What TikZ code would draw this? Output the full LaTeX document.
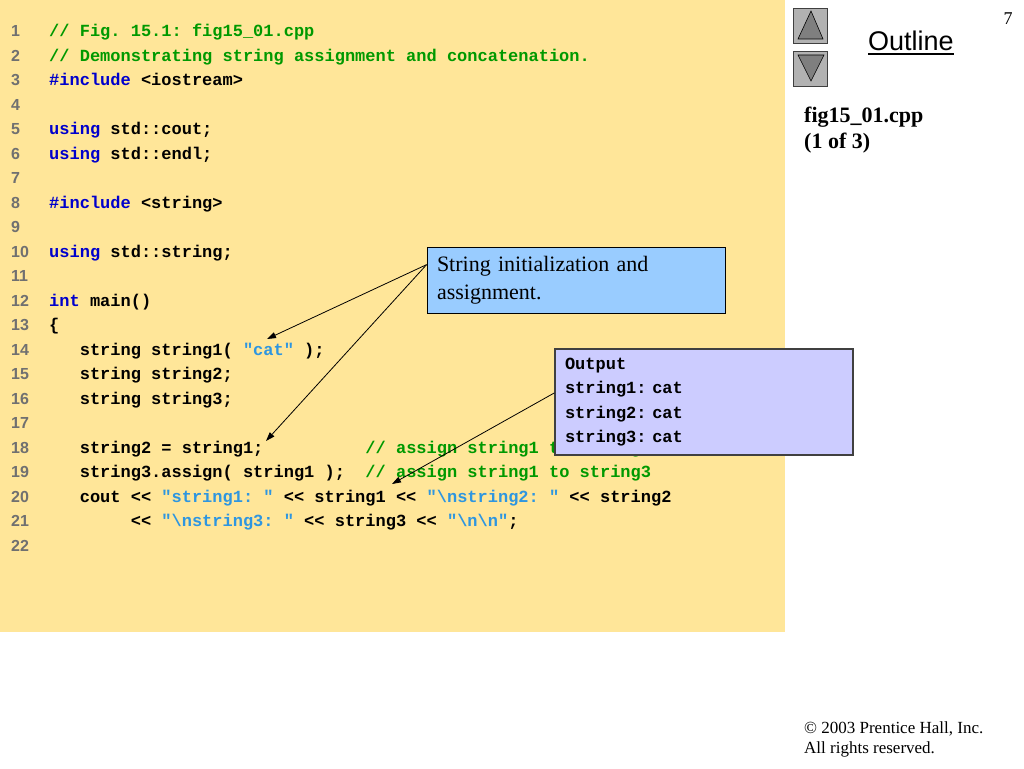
\documentclass[tikz,border=0pt]{standalone}
\usepackage{fontspec}
\setmainfont{Liberation Serif}
\newfontfamily\codefont{Liberation Mono}
\newfontfamily\arialfont{Liberation Sans}
\usetikzlibrary{arrows.meta,calc}
\definecolor{bgyellow}{HTML}{FFE699}
\definecolor{kwblue}{HTML}{0000CC}
\definecolor{cmgreen}{HTML}{009900}
\definecolor{stblue}{HTML}{2E96E0}
\definecolor{lngray}{HTML}{707070}
\definecolor{callblue}{HTML}{99CCFF}
\definecolor{callpurple}{HTML}{CCCCFF}
\definecolor{btngray}{HTML}{B2B2B2}
\definecolor{trigray}{HTML}{7F7F7F}
\newcommand\ckw[1]{\textcolor{kwblue}{#1}}
\newcommand\ccm[1]{\textcolor{cmgreen}{#1}}
\newcommand\cst[1]{\textcolor{stblue}{#1}}
\newcommand\bs{\textbackslash}
\begin{document}
\frenchspacing
\begin{tikzpicture}[x=1pt,y=-1pt,
  code/.style={anchor=base west,inner sep=0pt,font=\codefont\bfseries\fontsize{17}{24.5}\selectfont},
  lnum/.style={anchor=base west,inner sep=0pt,text=lngray,font=\arialfont\bfseries\fontsize{16}{18}\selectfont},
  callone/.style={draw=black,line width=0.8pt,fill=callblue,minimum width=298pt,minimum height=66pt,
    text width=278pt,inner xsep=10pt,align=left,font=\fontsize{22}{28}\selectfont},
  calltwo/.style={draw=black!75,line width=1.2pt,fill=callpurple,minimum width=298pt,minimum height=106pt,
    text width=278pt,inner xsep=10pt,align=left,font=\codefont\bfseries\fontsize{17}{24.5}\selectfont},
  arr/.style={draw=black,line width=0.8pt,-{Triangle[length=9pt,width=6pt]}},
  btn/.style={draw=black!75,line width=0.8pt,fill=btngray,minimum width=34pt,minimum height=35pt,inner sep=0pt},
  tri/.style={draw=black,line width=0.6pt,fill=trigray},
  serif/.style={inner sep=0pt,anchor=base west}
]
\path[use as bounding box] (0,0) rectangle (1024,768);
\node[fill=bgyellow,minimum width=785pt,minimum height=632pt,anchor=north west,inner sep=0pt] (bg) at (0,0) {};

% line numbers
\foreach \i in {1,...,22}{
  \pgfmathsetmacro\yy{36.5+24.5*(\i-1)}
  \node[lnum] (n\i) at (11,\yy) {\i};
}

% code lines
\node[code] (l1) at (49,36.5) {\ccm{// Fig. 15.1: fig15\_01.cpp}};
\node[code] (l2) at (49,61) {\ccm{// Demonstrating string assignment and concatenation.}};
\node[code] (l3) at (49,85.5) {\ckw{\#include} <iostream>};
\node[code] (l5) at (49,134.5) {\ckw{using} std::cout;};
\node[code] (l6) at (49,159) {\ckw{using} std::endl;};
\node[code] (l8) at (49,208) {\ckw{\#include} <string>};
\node[code] (l10) at (49,257) {\ckw{using} std::string;};
\node[code] (l12) at (49,306) {\ckw{int} main()};
\node[code] (l13) at (49,330.5) {\{};
\node[code] (l14) at (49,355) {~~~string string1( \cst{"cat"} );};
\node[code] (l15) at (49,379.5) {~~~string string2;};
\node[code] (l16) at (49,404) {~~~string string3;};
\node[code] (l18) at (49,453) {~~~string2 = string1;~~~~~~~~~~\ccm{// assign string1 to string2}};
\node[code] (l19) at (49,477.5) {~~~string3.assign( string1 );~~\ccm{// assign string1 to string3}};
\node[code] (l20) at (49,502) {~~~cout << \cst{"string1: "} << string1 << \cst{"\bs nstring2: "} << string2};
\node[code] (l21) at (49,526.5) {~~~~~~~~<< \cst{"\bs nstring3: "} << string3 << \cst{"\bs n\bs n"};};

% callouts
\node[callone] (c1) at (576,280) {String initialization and\\assignment.};
\node[calltwo] (c2) at (704,402) {Output\\string1: cat\\string2: cat\\string3: cat};

% arrow tips
\coordinate (t1) at (267,339);
\coordinate (t2) at (266,441);
\coordinate (t3) at (392,484);
\draw[arr] ($(c1.north west)!0.27!(c1.south west)$) -- (t1);
\draw[arr] ($(c1.north west)!0.27!(c1.south west)$) -- (t2);
\draw[arr] ($(c2.north west)!0.415!(c2.south west)$) -- (t3);

% outline buttons
\node[btn] (up) at (810.5,25.5) {};
\node[btn] (down) at (810.5,68.5) {};
\path[tri] (811,11) -- (823,39) -- (798,39) -- cycle;
\path[tri] (798,55) -- (824,55) -- (811,81) -- cycle;
\node[inner sep=0pt,anchor=base west,font=\arialfont\fontsize{27}{30}\selectfont] (outl) at (868,50) {Outline};
\draw[line width=1.8pt] (outl.base west) ++(0,4) coordinate (ul1) -- ($(outl.base east)+(0,4)$);
\node[inner sep=0pt,anchor=base,font=\fontsize{18}{20}\selectfont] (pg) at (1008,25) {7};

\node[serif,font=\bfseries\fontsize{22}{26}\selectfont] (fname) at (804,122) {fig15\_01.cpp};
\node[serif,font=\bfseries\fontsize{22}{26}\selectfont] (part) at (804,148) {(1 of 3)};

\node[serif,font=\fontsize{17}{20}\selectfont] (copy1) at (804,733) {© 2003 Prentice Hall, Inc.};
\node[serif,font=\fontsize{17}{20}\selectfont] (copy2) at (804,753) {All rights reserved.};
\end{tikzpicture}
\end{document}
